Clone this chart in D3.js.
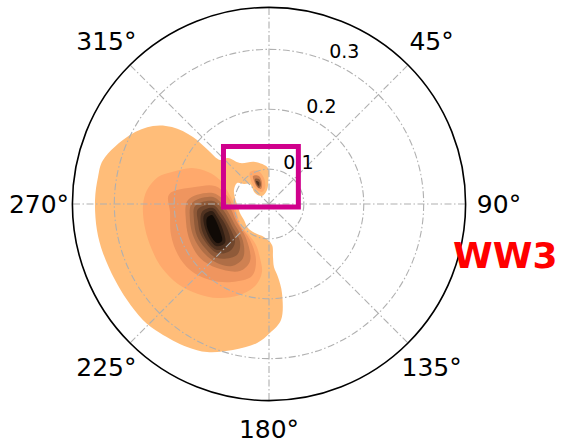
<!DOCTYPE html>
<html>
<head>
<meta charset="utf-8">
<script src="https://cdn.jsdelivr.net/npm/d3@7"></script>
<style>
  body { margin: 0; background: #fff; }
  text { font-family: "DejaVu Sans", sans-serif; }
</style>
</head>
<body>
<svg id="chart" width="561" height="444"></svg>
<script>
// frequency axis (Hz) and direction ticks (deg, clockwise from north)
const freqRange = [0.0418, 0.37];
const freqTicks = [0.1, 0.2, 0.3];
const freqTickLabels = ['0.1', '0.2', '0.3'];
const dirGrid = [0, 45, 90, 135, 180, 225, 270, 315];
const dirTicks = [45, 90, 135, 180, 225, 270, 315];
const dirTickLabels = ['45°', '90°', '135°', '180°', '225°', '270°', '315°'];

// contour outlines: [direction deg, frequency Hz]
const level1 = [[284.8,0.3285],[296.4,0.301],[303.9,0.2752],[308.4,0.2485],[311.4,0.211],[311.5,0.1779],
  [311.9,0.1518],[318.3,0.1446],[324.7,0.1256],[341.6,0.1157],[358.4,0.1019],[358.5,0.0819],[351.9,0.0654],
  [318.8,0.0595],[308.2,0.0715],[316.5,0.0879],[308.7,0.0952],[303.3,0.1057],[291.8,0.1047],[280,0.0994],
  [264.5,0.0937],[252.8,0.0925],[237.4,0.0914],[221.2,0.0951],[205.8,0.0956],[188.6,0.0976],[175.8,0.1104],
  [175.7,0.1306],[175.5,0.1473],[173,0.1646],[171.7,0.1919],[174.1,0.2365],[179.6,0.2572],[184.9,0.2747],
  [193.9,0.2929],[202.7,0.3097],[209.8,0.3169],[220.2,0.3238],[227.4,0.3278],[235.9,0.3279],[243.7,0.3285],
  [253.6,0.3308],[261.4,0.3323],[271.3,0.3323],[279,0.3308]];
const level2 = [[269.5,0.2521],[276.5,0.2468],[283.7,0.2325],[288.3,0.2123],[295.1,0.1837],[297.7,0.1568],
  [296.1,0.1329],[286.3,0.1131],[270,0.1002],[252.6,0.0977],[231.8,0.1012],[212.8,0.1034],[197.6,0.1136],
  [189.5,0.1331],[185.9,0.1560],[189.1,0.1787],[197.7,0.2012],[208.5,0.2203],[218.3,0.2331],[228.7,0.2441],
  [239.1,0.2500],[248.5,0.2516],[259,0.2527]];
const level3 = [[275.5,0.2094],[282.9,0.1685],[288.4,0.1368],[279.7,0.1112],[260.3,0.1011],[236.3,0.1021],
  [207.8,0.1097],[193.1,0.1378],[193.3,0.1653],[205.4,0.1859],[217.8,0.2024],[230.1,0.2136],[240.7,0.2159],
  [252.4,0.2134],[265.4,0.2076]];
const level4 = [[272.8,0.1772],[281.1,0.1371],[267.1,0.1086],[242.7,0.1037],[214.1,0.1103],[198.4,0.1421],
  [203.4,0.1637],[219.1,0.1795],[231.9,0.1880],[244.9,0.1874],[257.8,0.1835]];
const level5 = [[270.7,0.1703],[277.1,0.1360],[263.4,0.1141],[241.5,0.1083],[215.1,0.1173],[205.7,0.1418],
  [210.8,0.1623],[221.4,0.1730],[234,0.1780],[245.6,0.1792],[258.6,0.1764]];
const level6 = [[268.5,0.1653],[273.1,0.1355],[261.2,0.1178],[239.3,0.1136],[217.3,0.1216],[212.1,0.1423],
  [223.9,0.1670],[235.5,0.1715],[246,0.1734],[258,0.1698]];
const level7 = [[266,0.1607],[269,0.1353],[259.4,0.1233],[238.4,0.1183],[221.8,0.1269],[219.7,0.1438],
  [226.7,0.1610],[245.5,0.1665],[255.8,0.1640]];
const level8 = [[263.2,0.1545],[265.9,0.1355],[257.6,0.1273],[240.3,0.1226],[225,0.1339],[228.5,0.1577],[246.3,0.1622]];
const level9 = [[260.4,0.1518],[263,0.1376],[256,0.1313],[240.5,0.1300],[228.4,0.1400],[231.6,0.1547],[246.8,0.1562]];
const level10 = [[257.3,0.1479],[259.1,0.1388],[254.5,0.1353],[241.1,0.1351],[231.8,0.1416],[233.1,0.1503],[246.9,0.1525]];
// small secondary peak
const blob2 = [[329.3,0.1039],[341.6,0.1000],[349.1,0.0860],[346,0.0693],[329.7,0.0650],[319.1,0.0749],[322,0.0905]];
const blob4 = [[330.3,0.0956],[340.3,0.0914],[341.6,0.0787],[331.9,0.0702],[324.8,0.0765],[326.9,0.0877]];
const blob6 = [[330.8,0.0897],[338.2,0.0867],[337.2,0.0762],[328,0.0734],[327,0.0817]];
const blob8 = [[330.5,0.0859],[335.6,0.0822],[330.9,0.0762],[329,0.0807]];

// highlighted box, in frequency units east/north of the pole
const zoomBox = { west: -0.076, east: 0.049, north: 0.096, south: -0.005 };
const label = 'WW3';

const nBands = 10;
const bands = [
  { pts: level1, band: 0 }, { pts: level2, band: 1 }, { pts: level3, band: 2 }, { pts: level4, band: 3 },
  { pts: level5, band: 4 }, { pts: level6, band: 5 }, { pts: level7, band: 6 }, { pts: level8, band: 7 },
  { pts: level9, band: 8 }, { pts: level10, band: 9 },
  { pts: blob2, band: 1 }, { pts: blob4, band: 3 }, { pts: blob6, band: 5 }, { pts: blob8, band: 7 }
];

const width = 561, height = 444;
const cx = 269, cy = 204, R = 196.6;
const svg = d3.select('#chart');
const g = svg.append('g').attr('transform', `translate(${cx},${cy})`);

const r = d3.scaleLinear().domain(freqRange).range([0, R]);
const ang = d3.scaleLinear().domain([0, 360]).range([0, 2 * Math.PI]);

// copper colormap, reversed
const copper = x => d3.rgb(255 * Math.min(1, 1.25 * x), 255 * 0.7812 * x, 255 * 0.4975 * x);
const bandColor = i => copper(1 - (i + 0.5) / nBands);

const radial = d3.lineRadial()
    .angle(d => ang(d[0]))
    .radius(d => r(d[1]))
    .curve(d3.curveCatmullRomClosed.alpha(0.5));

g.selectAll('path.band')
  .data(bands)
  .join('path')
    .attr('class', 'band')
    .attr('d', d => radial(d.pts))
    .attr('fill', d => bandColor(d.band))
    .attr('stroke', 'none');

// grid
const gridStyle = sel => sel
    .attr('fill', 'none')
    .attr('stroke', '#b0b0b0')
    .attr('stroke-width', 1.1)
    .attr('stroke-dasharray', '7,2.5,1.5,2.5');

g.selectAll('circle.ring')
  .data(freqTicks)
  .join('circle')
    .attr('class', 'ring')
    .attr('r', d => r(d))
    .call(gridStyle);

g.selectAll('line.spoke')
  .data(dirGrid)
  .join('line')
    .attr('class', 'spoke')
    .attr('x1', 0).attr('y1', 0)
    .attr('x2', d => R * Math.sin(ang(d)))
    .attr('y2', d => -R * Math.cos(ang(d)))
    .call(gridStyle);

g.append('circle')
    .attr('r', R)
    .attr('fill', 'none')
    .attr('stroke', '#000')
    .attr('stroke-width', 1.6);

// angular tick labels (kept inside the window at the bottom)
const labR = 230, fsA = 25;
const maxBase = height - cy - 0.24 * fsA;
g.selectAll('text.dir')
  .data(dirTicks)
  .join('text')
    .attr('class', 'dir')
    .attr('x', d => labR * Math.sin(ang(d)))
    .attr('y', d => Math.min(maxBase, -labR * Math.cos(ang(d)) + 0.36 * fsA))
    .attr('text-anchor', 'middle')
    .attr('font-size', fsA)
    .attr('fill', '#000')
    .text((d, i) => dirTickLabels[i]);

// radial tick labels at 22.5 deg
const rlabAng = ang(22.5);
g.selectAll('text.freq')
  .data(freqTicks)
  .join('text')
    .attr('class', 'freq')
    .attr('x', d => r(d) * Math.sin(rlabAng) + 1)
    .attr('y', d => -r(d) * Math.cos(rlabAng) - 3)
    .attr('text-anchor', 'start')
    .attr('font-size', 19)
    .attr('fill', '#000')
    .text((d, i) => freqTickLabels[i]);

// highlight box
const k = R / (freqRange[1] - freqRange[0]);
g.append('rect')
    .attr('x', zoomBox.west * k)
    .attr('y', -zoomBox.north * k)
    .attr('width', (zoomBox.east - zoomBox.west) * k)
    .attr('height', (zoomBox.north - zoomBox.south) * k)
    .attr('fill', 'none')
    .attr('stroke', '#d0008c')
    .attr('stroke-width', 5);

svg.append('text')
    .attr('x', 453)
    .attr('y', 268)
    .attr('font-size', 36)
    .attr('font-weight', 'bold')
    .attr('fill', '#ff0000')
    .text(label);
</script>
</body>
</html>
